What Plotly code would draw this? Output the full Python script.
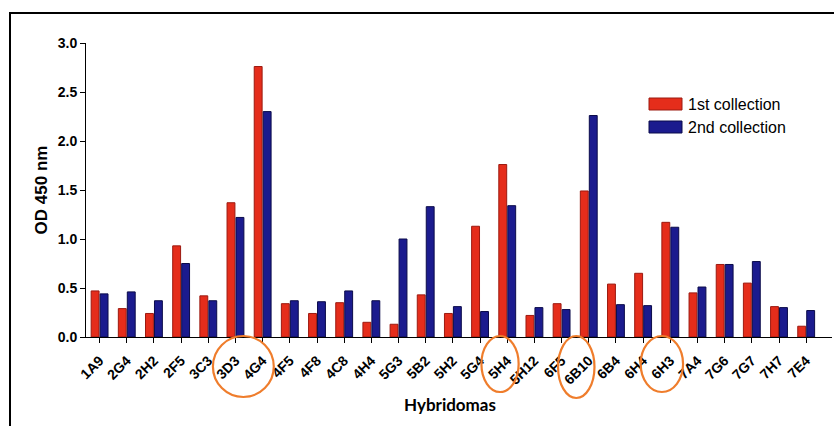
import plotly.graph_objects as go

# Hybridoma clones screened by ELISA
hybridomas = ["1A9", "2G4", "2H2", "2F5", "3C3", "3D3", "4G4", "4F5", "4F8", "4C8",
              "4H4", "5G3", "5B2", "5H2", "5G4", "5H4", "5H12", "6F5", "6B10", "6B4",
              "6H4", "6H3", "7A4", "7G6", "7G7", "7H7", "7E4"]

# OD 450 nm readings per supernatant collection
od_first = [0.47, 0.29, 0.24, 0.93, 0.42, 1.37, 2.76, 0.34, 0.24, 0.35,
            0.15, 0.13, 0.43, 0.24, 1.13, 1.76, 0.22, 0.34, 1.49, 0.54,
            0.65, 1.17, 0.45, 0.74, 0.55, 0.31, 0.11]
od_second = [0.44, 0.46, 0.37, 0.75, 0.37, 1.22, 2.30, 0.37, 0.36, 0.47,
             0.37, 1.00, 1.33, 0.31, 0.26, 1.34, 0.30, 0.28, 2.26, 0.33,
             0.32, 1.12, 0.51, 0.74, 0.77, 0.30, 0.27]

series_names = ["1st collection", "2nd collection"]

# Clones picked for further work (circled under the axis)
selected_groups = [["3D3", "4G4"], ["5H4"], ["6B10"], ["6H3"]]

W, H = 835, 427
ML, MR, MT, MB = 86, 3, 43, 90
PW, PH = W - ML - MR, H - MT - MB

RED, RED_EDGE = "#e52d1b", "#9c1a10"
BLUE, BLUE_EDGE = "#1b1b8e", "#0b0b4a"
ORANGE = "#ef7d2c"
FONT = "Liberation Sans, Arial"


def px_to_paper_x(px):
    return (px - ML) / PW


def px_to_paper_y(py):
    return (H - MB - py) / PH


fig = go.Figure()
fig.add_trace(go.Bar(x=hybridomas, y=od_first, name=series_names[0],
                     marker=dict(color=RED, line=dict(color=RED_EDGE, width=1))))
fig.add_trace(go.Bar(x=hybridomas, y=od_second, name=series_names[1],
                     marker=dict(color=BLUE, line=dict(color=BLUE_EDGE, width=1))))

shapes = []
# Outer frame: left and top edges only
fx0, fx1 = px_to_paper_x(10), px_to_paper_x(834)
fy_top, fy_bot = px_to_paper_y(13), px_to_paper_y(426)
shapes.append(dict(type="path", xref="paper", yref="paper",
                   path=f"M {fx0} {fy_bot} L {fx0} {fy_top} L {fx1} {fy_top}",
                   line=dict(color="black", width=2)))

# Orange rings around the selected clone labels
ring_pad = {"3D3": (0.83, 0.41), "5H4": (0.95, 0.42), "6B10": (1.13, 0.21), "6H3": (1.09, 0.47)}
ring_depth = {"3D3": 397, "5H4": 392, "6B10": 398, "6H3": 392}
for group in selected_groups:
    i0 = hybridomas.index(group[0])
    i1 = hybridomas.index(group[-1])
    lp, rp = ring_pad[group[0]]
    shapes.append(dict(type="circle", xref="x", yref="paper",
                       x0=i0 - lp, x1=i1 + rp,
                       y0=px_to_paper_y(336), y1=px_to_paper_y(ring_depth[group[0]]),
                       line=dict(color=ORANGE, width=2.2)))

annotations = []
# Legend swatches and labels
for k, (name, fill, edge) in enumerate([(series_names[0], RED, RED_EDGE),
                                         (series_names[1], BLUE, BLUE_EDGE)]):
    cy = 104 + 23 * k
    shapes.append(dict(type="rect", xref="paper", yref="paper",
                       x0=px_to_paper_x(649), x1=px_to_paper_x(682),
                       y0=px_to_paper_y(cy - 6), y1=px_to_paper_y(cy + 6),
                       fillcolor=fill, line=dict(color=edge, width=1)))
    annotations.append(dict(xref="paper", yref="paper",
                            x=px_to_paper_x(686), y=px_to_paper_y(cy),
                            xanchor="left", yanchor="middle", showarrow=False,
                            text=name,
                            font=dict(family=FONT, size=16, color="black")))

# X axis title
annotations.append(dict(xref="paper", yref="paper",
                        x=px_to_paper_x(450), y=px_to_paper_y(404),
                        xanchor="center", yanchor="middle", showarrow=False,
                        text="<b>Hybridomas</b>",
                        font=dict(family="Lato, Liberation Sans", size=17, color="black")))

fig.update_layout(
    width=W, height=H,
    margin=dict(l=ML, r=MR, t=MT, b=MB, pad=0),
    paper_bgcolor="white", plot_bgcolor="white",
    barmode="group", bargap=0.34, bargroupgap=0.12,
    showlegend=False,
    shapes=shapes, annotations=annotations,
    font=dict(family=FONT, color="black"),
)

fig.update_yaxes(
    range=[0, 3.0], dtick=0.5, tickformat=".1f",
    showgrid=False, zeroline=False,
    showline=True, linecolor="black", linewidth=1,
    ticks="outside", ticklen=5, tickcolor="black",
    tickfont=dict(family=FONT, size=14, color="black", weight="bold"),
    title=dict(text="<b>OD 450 nm</b>", standoff=5,
               font=dict(family=FONT, size=17, color="black")),
)

fig.update_xaxes(
    range=[-0.5, len(hybridomas) - 0.5 + 0.45],
    showgrid=False, zeroline=False,
    showline=True, linecolor="black", linewidth=1,
    ticks="outside", ticklen=5, tickcolor="black",
    tickangle=-45, ticklabelstandoff=4,
    tickfont=dict(family=FONT, size=14, color="black", weight="bold"),
)

fig.write_html("out.html")
